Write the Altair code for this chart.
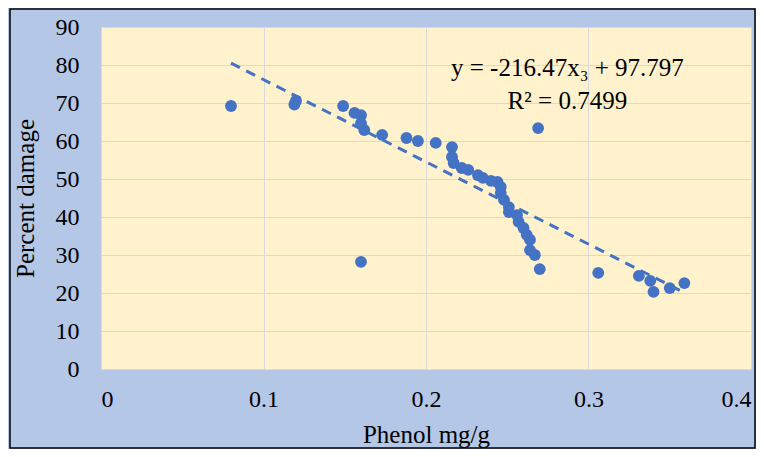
import altair as alt
import pandas as pd

phenol = [0.080, 0.119, 0.120, 0.149, 0.156, 0.160, 0.160, 0.162, 0.160, 0.173,
          0.188, 0.195, 0.206, 0.216, 0.216, 0.217, 0.222, 0.226, 0.232, 0.235,
          0.240, 0.244, 0.246, 0.246, 0.248, 0.251, 0.251, 0.256, 0.257, 0.260,
          0.262, 0.264, 0.264, 0.267, 0.270, 0.269, 0.306, 0.331, 0.338, 0.340,
          0.350, 0.359]
damage = [69.2, 69.6, 70.6, 69.2, 67.4, 66.8, 64.7, 62.9, 28.2, 61.6,
          60.8, 60.0, 59.5, 58.4, 55.8, 54.2, 52.9, 52.4, 51.0, 50.3,
          49.5, 49.2, 47.9, 46.3, 44.5, 42.6, 41.3, 40.5, 38.7, 37.1,
          35.3, 34.0, 31.3, 30.0, 26.3, 63.4, 25.3, 24.5, 23.2, 20.3,
          21.3, 22.6]

slope = -216.47
intercept = 97.797
trend_x = [0.08, 0.36]
trend_y = [slope * v + intercept for v in trend_x]

eq_lines = ["y = -216.47x\u2083 + 97.797", "R\u00b2 = 0.7499"]
eq_x = [0.287, 0.287]
eq_y = [79.2, 70.4]

x_ticks = [0, 0.1, 0.2, 0.3, 0.4]
y_ticks = [0, 10, 20, 30, 40, 50, 60, 70, 80, 90]

FONT = "Liberation Serif"
BLUE = "#4472C4"

pts = pd.DataFrame({"x": phenol, "y": damage})
trend = pd.DataFrame({"x": trend_x, "y": trend_y})
eq = pd.DataFrame({"x": eq_x, "y": eq_y, "t": eq_lines})

xscale = alt.Scale(domain=[0, 0.4], nice=False, zero=False)
yscale = alt.Scale(domain=[0, 90], nice=False)

xaxis = alt.Axis(values=x_ticks, format="~g", title="Phenol mg/g", grid=True,
                 gridColor="#D9D9D9", gridWidth=1, domain=False, ticks=False,
                 labelPadding=18, labelFont=FONT, labelFontSize=24,
                 labelColor="#000000", labelOverlap=False, titleFont=FONT,
                 titleFontSize=25, titleFontWeight="normal", titleColor="#000000",
                 titleX=325, titleY=65, titleBaseline="middle", titleAnchor="middle")
yaxis = alt.Axis(values=y_ticks, title="Percent damage", grid=True,
                 gridColor="#D9D9D9", gridWidth=1, domain=False, ticks=False,
                 labelPadding=22, labelFont=FONT, labelFontSize=24,
                 labelColor="#000000", labelOverlap=False, titleFont=FONT,
                 titleFontSize=25, titleFontWeight="normal", titleColor="#000000",
                 titleX=-76, titleY=171, titleAngle=-90, titleBaseline="middle",
                 titleAlign="center")

X = alt.X("x:Q", scale=xscale, axis=xaxis)
Y = alt.Y("y:Q", scale=yscale, axis=yaxis)

points = alt.Chart(pts).mark_circle(size=140, color=BLUE, opacity=1).encode(x=X, y=Y)

line = alt.Chart(trend).mark_line(color=BLUE, strokeWidth=3, strokeDash=[10, 7]).encode(x=X, y=Y)

text = alt.Chart(eq).mark_text(font=FONT, fontSize=25, color="#000000",
                               align="center", baseline="middle").encode(
    x=X, y=Y, text="t:N",
)

frame = alt.Chart(pd.DataFrame({"a": [0]})).mark_rect(
    fill=None, stroke="#000000", strokeWidth=1.5, clip=False
).encode(
    x=alt.value(-91), x2=alt.value(654), y=alt.value(-18), y2=alt.value(421)
)

chart = alt.layer(points, line, text, frame).properties(
    width=650, height=342,
    autosize=alt.AutoSizeParams(type="none"),
    padding={"left": 93, "top": 19, "right": 5, "bottom": 80},
    background="#B4C7E7",
).configure_view(fill="#FFF2CC", stroke=None).configure_axis(
    labelFont=FONT, titleFont=FONT
)

chart.save("out.html", embed_options={"renderer": "svg", "actions": False})
